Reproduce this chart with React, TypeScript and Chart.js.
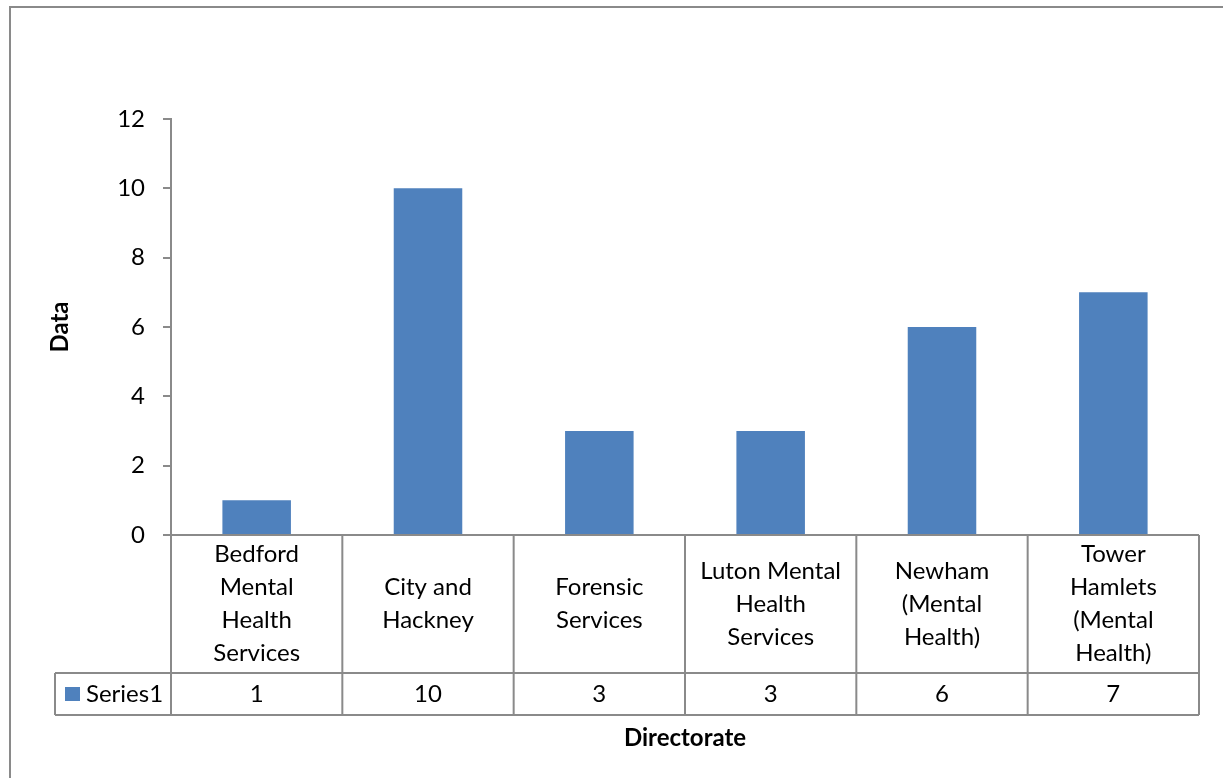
import React, { useEffect, useRef } from "react";
import { Chart, registerables } from "chart.js";

Chart.register(...registerables);

// Directorate names, split into the lines shown in the data table
const categoryLines: string[][] = [
  ["Bedford", "Mental", "Health", "Services"],
  ["City and", "Hackney"],
  ["Forensic", "Services"],
  ["Luton Mental", "Health", "Services"],
  ["Newham", "(Mental", "Health)"],
  ["Tower", "Hamlets", "(Mental", "Health)"],
];
const categories = categoryLines.map((l) => l.join(" "));
const seriesName = "Series1";
const seriesValues = [1, 10, 3, 3, 6, 7];
const yMin = 0;
const yMax = 12;
const yStep = 2;
const yTitle = "Data";
const xTitle = "Directorate";

const FONT = "Lato, 'Open Sans', sans-serif";
const FONT_SIZE = 24;
const LINE = "#8a8a8a";
const BAR = "#4f81bd";

const tablePlugin = {
  id: "dataTable",
  afterDraw(chart: any) {
    const ctx: CanvasRenderingContext2D = chart.ctx;
    const xs = chart.scales.x;
    const ys = chart.scales.y;
    const area = chart.chartArea;
    const n = categories.length;
    const half = (xs.getPixelForValue(1) - xs.getPixelForValue(0)) / 2;
    const rowTop = ys.getPixelForValue(0);
    const rowMid = rowTop + 138;
    const rowBot = rowMid + 42;
    const legendLeft = 55;
    const bounds: number[] = [];
    for (let i = 0; i < n; i++) bounds.push(xs.getPixelForValue(i) - half);
    bounds.push(xs.getPixelForValue(n - 1) + half);

    ctx.save();
    // outer chart frame
    ctx.strokeStyle = LINE;
    ctx.lineWidth = 2;
    ctx.strokeRect(10, 7, 1240, 800);

    // table grid
    ctx.beginPath();
    ctx.moveTo(area.left, rowTop);
    ctx.lineTo(bounds[n], rowTop);
    for (const b of bounds) {
      ctx.moveTo(b, rowTop);
      ctx.lineTo(b, rowBot);
    }
    ctx.moveTo(legendLeft, rowMid);
    ctx.lineTo(bounds[n], rowMid);
    ctx.moveTo(legendLeft, rowBot);
    ctx.lineTo(bounds[n], rowBot);
    ctx.moveTo(legendLeft, rowMid);
    ctx.lineTo(legendLeft, rowBot);
    ctx.stroke();

    // category labels
    ctx.fillStyle = "#000";
    ctx.font = `${FONT_SIZE}px ${FONT}`;
    ctx.textAlign = "center";
    ctx.textBaseline = "middle";
    const lh = 33;
    const midLabel = (rowTop + rowMid) / 2;
    categoryLines.forEach((lines, i) => {
      const cx = xs.getPixelForValue(i);
      const start = midLabel - ((lines.length - 1) * lh) / 2;
      lines.forEach((t, j) => ctx.fillText(t, cx, start + j * lh));
    });

    // values row
    const midVal = (rowMid + rowBot) / 2;
    seriesValues.forEach((v, i) => {
      ctx.fillText(String(v), xs.getPixelForValue(i), midVal);
    });

    // legend key + series name
    ctx.fillStyle = BAR;
    ctx.fillRect(65, midVal - 7, 15, 14);
    ctx.fillStyle = "#000";
    ctx.textAlign = "left";
    ctx.fillText(seriesName, 86, midVal);

    // axis titles
    ctx.font = `bold ${FONT_SIZE}px ${FONT}`;
    ctx.textAlign = "center";
    ctx.fillText(xTitle, (area.left + area.right) / 2, 738);
    ctx.save();
    ctx.translate(60, (area.top + area.bottom) / 2);
    ctx.rotate(-Math.PI / 2);
    ctx.fillText(yTitle, 0, 0);
    ctx.restore();
    ctx.restore();
  },
};

export default function App() {
  const ref = useRef<HTMLCanvasElement | null>(null);

  useEffect(() => {
    if (!ref.current) return;
    const chart = new Chart(ref.current, {
      type: "bar",
      data: {
        labels: categories,
        datasets: [
          {
            label: seriesName,
            data: seriesValues,
            backgroundColor: BAR,
            borderWidth: 0,
            barPercentage: 0.4,
            categoryPercentage: 1,
          },
        ],
      },
      options: {
        animation: false,
        responsive: false,
        devicePixelRatio: 1,
        layout: { padding: { left: 10, top: 119, right: 24, bottom: 243 } },
        plugins: {
          legend: { display: false },
          tooltip: { enabled: false },
          title: { display: false },
        },
        scales: {
          x: { display: false },
          y: {
            min: yMin,
            max: yMax,
            ticks: {
              stepSize: yStep,
              padding: 18,
              color: "#000",
              font: { family: FONT, size: FONT_SIZE },
            },
            grid: {
              drawOnChartArea: false,
              drawTicks: true,
              tickLength: 8,
              color: LINE,
              lineWidth: 2,
            },
            border: { display: true, color: LINE, width: 2 },
            afterFit(scale: any) {
              scale.width = 161;
            },
          },
        },
      },
      plugins: [tablePlugin],
    });
    return () => chart.destroy();
  }, []);

  return (
    <div style={{ position: "absolute", left: 0, top: 0, width: 1223, height: 778 }}>
      <canvas ref={ref} width={1223} height={778} style={{ width: 1223, height: 778 }} />
    </div>
  );
}
